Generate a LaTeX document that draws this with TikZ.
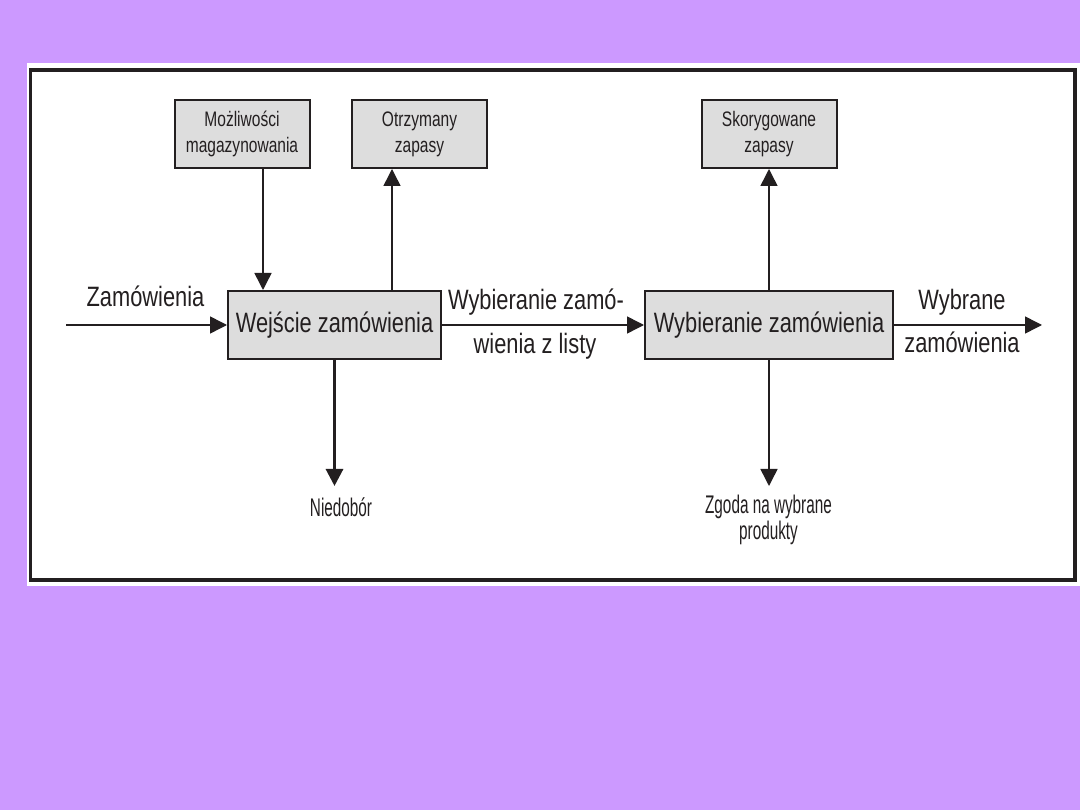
\documentclass[tikz,border=0pt]{standalone}
\usepackage{fontspec}
\setmainfont{Liberation Sans}
\newfontfamily\bigf{Liberation Sans}[FakeStretch=0.78]
\newfontfamily\boxf{Liberation Sans}[FakeStretch=0.74]
\newfontfamily\botf{Liberation Sans}[FakeStretch=0.6]
\usetikzlibrary{arrows.meta}
\definecolor{bgpurple}{RGB}{204,153,255}
\definecolor{boxgray}{RGB}{221,221,221}
\definecolor{ink}{RGB}{35,31,32}
\begin{document}
\begin{tikzpicture}[x=1pt,y=-1pt,
  box/.style={draw=ink, fill=boxgray, line width=2pt, inner sep=0pt, text=ink, align=center},
  bigbox/.style={box, minimum height=68pt, font={\bigf\fontsize{28}{32}\selectfont}},
  smallbox/.style={box, minimum width=135pt, minimum height=68pt, font={\boxf\fontsize{21}{26}\selectfont}},
  conn/.style={draw=ink, line width=1.5pt, -{Triangle[length=17pt,width=17pt]}},
  thickconn/.style={conn, line width=3pt},
  lbl/.style={text=ink, inner sep=0pt, anchor=base, font={\bigf\fontsize{28}{32}\selectfont}},
  botlbl/.style={text=ink, inner sep=0pt, anchor=base, font={\botf\fontsize{25.5}{26}\selectfont}}]
\useasboundingbox (0,0) rectangle (1080,810);
\fill[bgpurple] (0,0) rectangle (1080,810);
\fill[white] (27,63) rectangle (1080,586);
\draw[ink, line width=3.5pt] (30.5,70) rectangle (1075,580);

% boxes
\node[smallbox] (mozl) at (242,134) {Możliwości\\magazynowania};
\node[smallbox] (otrz) at (419.5,134) {Otrzymany\\zapasy};
\node[smallbox] (skor) at (769,134) {Skorygowane\\zapasy};
\node[bigbox, minimum width=213pt] (wej) at (334.5,325) {Wejście zamówienia};
\node[bigbox, minimum width=248pt] (wyb) at (769,325) {Wybieranie zamówienia};

% free ends
\coordinate (inS) at (66,325);
\coordinate (outE) at (1042,325);
\coordinate (niedT) at (334.5,486);
\coordinate (zgT) at (769,486);

% connectors
\draw[conn] (inS) -- (wej.west);
\draw[conn] ([xshift=21pt]mozl.south) -- ([xshift=21pt]mozl.south |- wej.north);
\draw[conn] ([xshift=-27.5pt]otrz.south |- wej.north) -- ([xshift=-27.5pt]otrz.south);
\draw[conn] (wej.east) -- (wyb.west);
\draw[conn] (wyb.north) -- (skor.south);
\draw[conn] (wyb.east) -- (outE);
\draw[thickconn] (wej.south) -- (niedT);
\draw[conn] (wyb.south) -- (zgT);

% labels
\node[lbl] (zam) at (145.5,307) {Zamówienia};
\node[lbl] (wz1) at (536,310) {Wybieranie zamó-};
\node[lbl] (wz2) at (535,354) {wienia z listy};
\node[lbl] (wb1) at (962,310) {Wybrane};
\node[lbl] (wb2) at (962,353) {zamówienia};
\node[botlbl] (nied) at (341,516) {Niedobór};
\node[botlbl] (zg1) at (768.5,513) {Zgoda na wybrane};
\node[botlbl] (zg2) at (768.5,539) {produkty};
\end{tikzpicture}
\end{document}
